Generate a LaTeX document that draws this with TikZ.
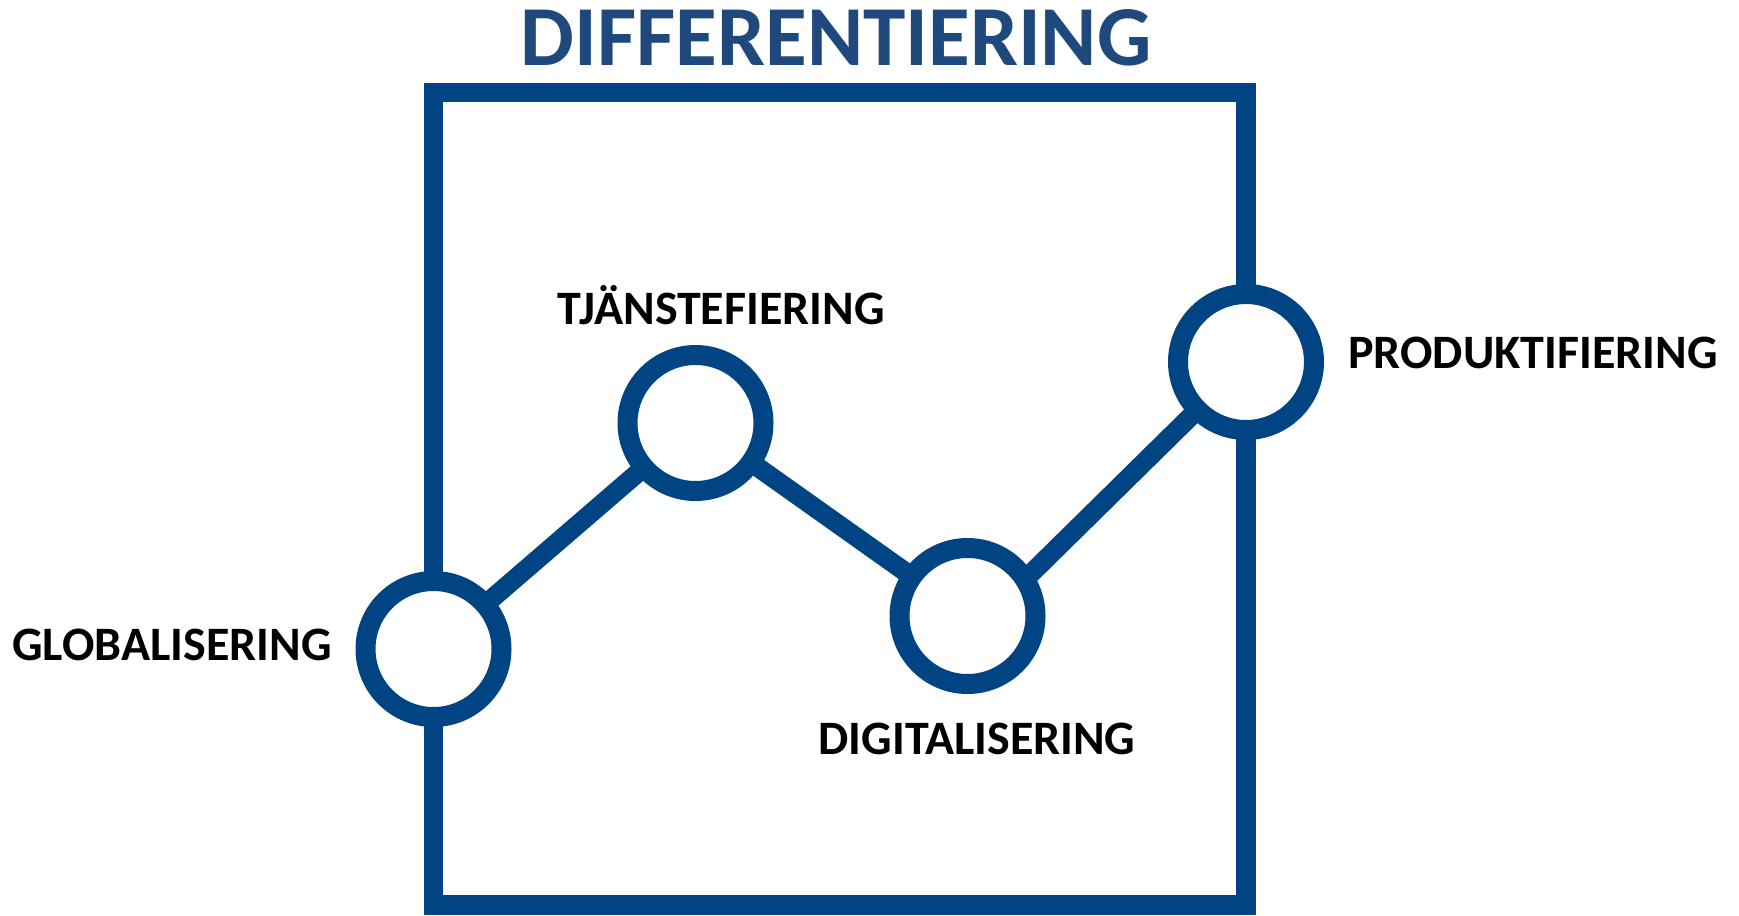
\documentclass[tikz,border=0pt]{standalone}
\usepackage{fontspec}
\setmainfont{Carlito}
\usetikzlibrary{backgrounds,calc}
\definecolor{boxblue}{RGB}{0,68,132}
\definecolor{titleblue}{RGB}{31,73,125}
\tikzset{
  ring/.style={circle, draw=boxblue, line width=10pt, fill=white, minimum size=68pt, inner sep=0pt},
  lbl/.style={font=\fontsize{24}{28}\selectfont\bfseries, text=black, inner sep=0pt},
  conn/.style={draw=boxblue, line width=9.6pt},
}
\begin{document}
\begin{tikzpicture}[x=0.5pt,y=-0.5pt]
\useasboundingbox (0,0) rectangle (1739,915);
\node[font=\fontsize{42.7}{48}\selectfont\bfseries, text=titleblue, anchor=base, inner sep=0pt] (title) at (836,65.5) {DIFFERENTIERING};
\node[ring] (g) at (433.5,649) {};
\node[ring] (t) at (695.5,423) {};
\node[ring] (d) at (967.5,616) {};
\node[ring] (p) at (1246,362) {};
\coordinate (tl) at (433.5,92.5);
\coordinate (tr) at (1246,92.5);
\coordinate (bl) at (433.5,905);
\coordinate (br) at (1246,905);
\begin{pgfonlayer}{background}
\draw[conn, line join=miter] (g.center) -- (tl) -- (tr) -- (p.center) -- (br) -- (bl) -- cycle;
\draw[conn] (g.center) -- (t.center);
\draw[conn] (t.center) -- (d.center);
\draw[conn] ($(d.center)+(0,20)$) -- (p.center);
\end{pgfonlayer}
\node[lbl, anchor=base] (lt) at (721,324) {TJÄNSTEFIERING};
\node[lbl, anchor=base west] (lg) at (12,660) {GLOBALISERING};
\node[lbl, anchor=base] (ld) at (977,754) {DIGITALISERING};
\node[lbl, anchor=base east] (lp) at (1718,368) {PRODUKTIFIERING};
\end{tikzpicture}
\end{document}
